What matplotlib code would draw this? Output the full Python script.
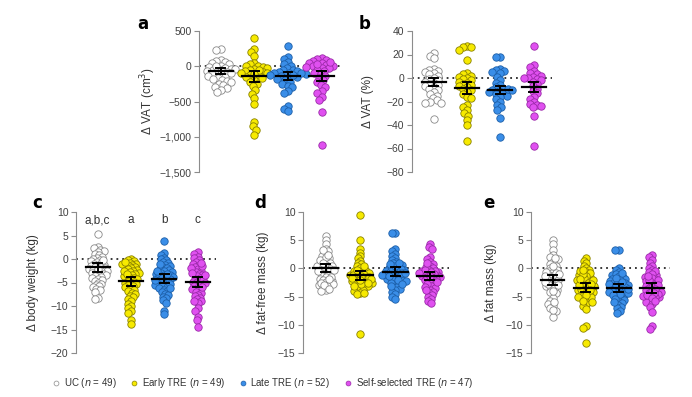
import numpy as np
import matplotlib
matplotlib.use("Agg")
import matplotlib.pyplot as plt
from matplotlib.lines import Line2D
from matplotlib.ticker import FuncFormatter

plt.rcParams["font.family"] = ["Liberation Sans Narrow", "Liberation Sans", "DejaVu Sans"]

GROUPS = ["UC", "Early TRE", "Late TRE", "Self-selected TRE"]
N_LEGEND = [49, 49, 52, 47]
FACE = ["white", "#f7ea00", "#3a8ee8", "#e050f0"]
EDGE = ["#8a8a8a", "#8a8200", "#1d5fa8", "#9a2aa8"]

# ---- panel a: change in VAT (cm3) ------------------------------------------
vat_cm3 = [
    [250, 235, 85, 70, 55, 40, 25, 10, -5, -20, -35, -50, -65, -80, -95, -110,
     -125, -140, -155, -170, -185, -200, -215, -230, -250, -270, -290, -310, -335,
     -360, -60, -40, 0, -100],
    [400, 250, 200, 150, 40, 30, 10, 0, -10, -20, -40, -50, -70, -80, -100, -120,
     -130, -150, -170, -200, -220, -250, -280, -340, -390, -450, -540, -790, -850,
     -900, -980, -60, -90, -110],
    [290, 130, 100, 60, 30, 10, -30, -50, -60, -80, -90, -100, -110, -120, -130,
     -140, -150, -160, -180, -200, -220, -250, -280, -300, -350, -380, -560, -600,
     -630, -70, -95, -125],
    [120, 100, 90, 70, 50, 40, 20, 10, 0, -10, -20, -30, -50, -70, -90, -110, -140,
     -170, -200, -230, -260, -300, -350, -380, -430, -480, -650, -1120, 60, 30],
]
vat_cm3_mean = [-71, -143, -133, -133]
vat_cm3_ci = [40, 77, 57, 72]

# ---- panel b: change in VAT (%) --------------------------------------------
vat_pct = [
    [21, 19, 17, 8, 7, 6, 5, 4, 3, 2, 0, -1, -2, -3, -4, -5, -6, -7, -8, -9, -10,
     -12, -14, -15, -17, -19, -20, -21, -21, -35],
    [27, 26, 26, 24, 15, 4, 3, 2, 1, 0, -1, -2, -3, -4, -5, -6, -7, -8, -9, -10,
     -12, -14, -16, -17, -23, -25, -27, -30, -32, -36, -40, -54],
    [18, 18, 8, 7, 6, 5, 4, 1, -2, -4, -6, -8, -9, -10, -11, -12, -13, -14, -15,
     -16, -18, -20, -23, -25, -27, -34, -50, -9.5, -10.5],
    [27, 11, 9, 6, 4, 3, 2, 1, 0, 0, -1, -2, -3, -5, -7, -9, -11, -13, -16, -18,
     -20, -22, -23, -24, -25, -32, -58],
]
vat_pct_mean = [-3.4, -8.2, -9.9, -7.7]
vat_pct_ci = [3.0, 5.0, 3.3, 4.5]

# ---- panel c: change in body weight (kg) -----------------------------------
weight = [
    [5.4, 2.5, 2.3, 2.0, 1.8, 1.5, 1.0, 0.8, 0.5, 0.2, 0, -0.2, -0.5, -0.7, -0.9,
     -1.0, -1.2, -1.4, -1.5, -1.7, -1.8, -2.0, -2.1, -2.3, -2.5, -2.6, -2.8, -3.0,
     -3.1, -3.3, -3.4, -3.6, -3.8, -4.0, -4.2, -4.5, -4.7, -5.0, -5.3, -5.5, -5.8,
     -6.0, -6.3, -6.6, -7.0, -8.2, -8.6, -2.2, -0.3],
    [-0.1, -0.2, -0.5, -0.8, -1.0, -1.3, -1.5, -1.8, -2.0, -2.2, -2.4, -2.6, -2.8,
     -3.0, -3.2, -3.4, -3.6, -3.8, -4.0, -4.2, -4.4, -4.6, -4.8, -5.0, -5.2, -5.4,
     -5.6, -5.8, -6.0, -6.3, -6.6, -6.9, -7.2, -7.5, -7.8, -8.1, -8.5, -9.0, -9.5,
     -10.0, -10.5, -11.0, -11.5, -13.0, -13.8, -1.1, -2.5, -3.1, -0.6],
    [3.9, 1.2, 0.8, 0.3, 0, -0.3, -0.6, -0.9, -1.2, -1.5, -1.8, -2.0, -2.2, -2.4,
     -2.6, -2.8, -3.0, -3.2, -3.4, -3.6, -3.8, -4.0, -4.2, -4.4, -4.6, -4.8, -5.0,
     -5.2, -5.4, -5.6, -5.8, -6.0, -6.2, -6.5, -6.8, -7.1, -7.4, -7.7, -8.0, -8.4,
     -8.8, -9.3, -11.0, -11.8, -1.0, -2.5, -3.5, -4.1, -4.5, -5.3, -6.1, -3.1],
    [1.4, 1.1, 0.5, 0.2, -0.2, -0.6, -1.0, -1.4, -1.8, -2.2, -2.5, -2.8, -3.1, -3.4,
     -3.7, -4.0, -4.3, -4.6, -4.9, -5.2, -5.5, -5.8, -6.1, -6.4, -6.7, -7.0, -7.3,
     -7.6, -7.9, -8.2, -8.5, -8.9, -9.3, -10.5, -11.0, -12.3, -13.0, -14.5, -2.0,
     -3.0, -4.5, -5.0, -6.0, -3.5, -1.5, -0.8, -9.0],
]
weight_mean = [-1.8, -4.7, -4.2, -4.9]
weight_ci = [0.9, 0.95, 0.95, 1.15]
weight_letters = ["a,b,c", "a", "b", "c"]

# ---- panel d: change in fat-free mass (kg) ---------------------------------
ffm = [
    [5.8, 5.0, 4.3, 3.5, 3.0, 2.6, 2.2, 1.8, 1.5, 1.2, 1.0, 0.8, 0.6, 0.4, 0.2, 0,
     -0.2, -0.4, -0.6, -0.8, -1.0, -1.2, -1.4, -1.6, -1.8, -2.0, -2.2, -2.4, -2.6,
     -2.8, -3.0, -3.2, -3.5, -3.8, -4.0, -2.5, -1.5, -0.5, 0.5, 1.5, 2.0, 3.2, -1.9,
     -2.9, 0.9, -0.1, -3.6, 2.4, -0.3],
    [9.5, 5.0, 3.4, 2.8, 2.2, 1.8, 1.4, 1.0, 0.7, 0.4, 0.1, -0.2, -0.4, -0.6, -0.8,
     -1.0, -1.2, -1.4, -1.6, -1.8, -2.0, -2.2, -2.4, -2.6, -2.8, -3.0, -3.2, -3.4,
     -3.6, -3.8, -4.0, -4.3, -4.6, -11.6, -0.5, -1.1, -1.5, -1.9, -2.3, -2.7, -3.1,
     -0.9, 0.5, -1.3, -2.1, -2.5, -1.7, -0.3, -4.4],
    [6.3, 6.2, 3.4, 3.0, 2.6, 2.2, 1.8, 1.5, 1.2, 0.9, 0.6, 0.3, 0, -0.3, -0.6,
     -0.9, -1.2, -1.5, -1.8, -2.1, -2.4, -2.7, -3.0, -3.3, -3.6, -3.9, -4.2, -4.6,
     -5.0, -5.5, -0.1, -0.4, -0.7, -1.0, -1.3, -1.6, -1.9, -2.2, -2.5, -0.2, -0.5,
     0.1, 0.4, -0.8, -1.1, -1.4, -2.0, 0.7, -2.8, -3.2, 1.0, -0.9],
    [4.4, 3.8, 3.4, 2.0, 1.6, 1.2, 0.8, 0.4, 0.1, -0.2, -0.5, -0.8, -1.1, -1.4,
     -1.7, -2.0, -2.3, -2.6, -2.9, -3.2, -3.5, -3.8, -4.1, -4.4, -4.7, -5.0, -5.4,
     -5.8, -6.2, 0.3, -0.3, -0.6, -0.9, -1.2, -1.5, -1.8, -2.1, -2.4, -0.4, -1.0,
     -1.6, -2.8, -3.3, -3.9, 0.9, -0.7, -1.3],
]
ffm_mean = [0.0, -1.2, -0.6, -1.3]
ffm_ci = [0.7, 0.8, 0.8, 0.75]

# ---- panel e: change in fat mass (kg) --------------------------------------
fm = [
    [5.0, 4.3, 3.2, 2.4, 2.0, 1.6, 1.2, 0.8, 0.4, 0.1, -0.2, -0.5, -0.8, -1.1, -1.4,
     -1.7, -2.0, -2.3, -2.6, -2.9, -3.2, -3.5, -3.8, -4.1, -4.4, -5.3, -5.8, -6.3,
     -6.7, -7.1, -7.6, -8.6, -0.3, -0.9, -1.5, -2.1, -2.7, -3.3, -1.0, -1.9, -2.4,
     0.5, -0.6, -3.0, -1.3, -4.0, -7.3, -6.0, 1.9],
    [1.8, 1.3, 0.9, 0.5, 0.1, -0.3, -0.7, -1.1, -1.5, -1.9, -2.3, -2.7, -3.1, -3.5,
     -3.9, -4.3, -4.7, -5.1, -5.5, -5.9, -6.3, -6.7, -7.2, -10.2, -10.5, -13.2,
     -0.5, -0.9, -1.3, -1.7, -2.1, -2.5, -2.9, -3.3, -3.7, -4.1, -4.5, -1.0, -2.0,
     -3.0, -4.0, -5.0, -0.2, -1.8, -2.8, -3.8, -4.8, -5.8, -6.0],
    [3.3, 3.3, 0.1, -0.3, -0.7, -1.1, -1.5, -1.9, -2.3, -2.6, -2.9, -3.2, -3.5,
     -3.8, -4.1, -4.4, -4.7, -5.0, -5.3, -5.6, -5.9, -6.2, -6.5, -6.8, -7.1, -7.5,
     -7.9, -1.0, -1.4, -1.8, -2.2, -2.5, -2.8, -3.1, -3.4, -3.7, -4.0, -4.3, -4.6,
     -2.0, -2.7, -3.3, -3.9, -0.9, -1.7, -2.4, -3.0, -3.6, -4.2, -4.8, -5.4, -6.0],
    [2.4, 2.0, 1.5, 1.0, 0.5, 0.1, -0.3, -0.7, -1.1, -1.5, -1.9, -2.3, -2.7, -3.1,
     -3.5, -3.9, -4.3, -4.7, -5.1, -5.5, -5.9, -6.3, -6.8, -7.8, -10.2, -10.7, -0.5,
     -1.0, -1.7, -2.1, -2.5, -2.9, -3.3, -3.7, -4.1, -4.5, -4.9, -3.0, -4.0, -5.0,
     -2.0, -3.6, -4.4, -4.8, -5.3, -5.7, -1.3],
]
fm_mean = [-2.0, -3.4, -3.5, -3.5]
fm_ci = [0.9, 0.85, 0.7, 0.85]

PX = 692.0
PY = 397.0
DOT_PX = 7.4       # marker diameter in pixels
MS = DOT_PX * 72 / 100


def swarm(vals, px_per_unit_x, px_per_unit_y, overlap=0.47):
    """Simple beeswarm: put each point as close to the centre as it fits,
    letting neighbours overlap quite a bit."""
    md = DOT_PX * overlap
    ys = np.asarray(vals, float) * px_per_unit_y
    order = np.argsort(-ys)
    placed_x, placed_y = [], []
    xs = np.zeros(len(ys))
    for i in order:
        y = ys[i]
        cands = [0.0]
        blocks = []
        for px_, py_ in zip(placed_x, placed_y):
            dy = abs(py_ - y)
            if dy < md:
                w = np.sqrt(md ** 2 - dy ** 2)
                blocks.append((px_ - w, px_ + w))
                cands += [px_ - w, px_ + w]
        cands.sort(key=abs)
        for c in cands:
            if all(not (lo + 1e-6 < c < hi - 1e-6) for lo, hi in blocks):
                xs[i] = c
                break
        placed_x.append(xs[i])
        placed_y.append(y)
    return xs / px_per_unit_x


def panel(rect, data, means, cis, ylim, ticks, ylabel, letter, letter_xy,
          ylabel_x, fmt=None, overlap=0.47):
    ax = fig.add_axes(rect)
    xlim = (-0.65, 3.55)
    w_px = rect[2] * PX
    h_px = rect[3] * PY
    ppx = w_px / (xlim[1] - xlim[0])
    ppy = h_px / (ylim[1] - ylim[0])
    ax.axhline(0, color="0.15", ls=(0, (1, 2.2)), lw=1.3, zorder=1)
    for g, vals in enumerate(data):
        off = swarm(vals, ppx, ppy, overlap)
        ax.scatter(g + off, vals, s=MS ** 2, facecolor=FACE[g],
                   edgecolor=EDGE[g], lw=0.6, zorder=2, clip_on=False)
        m, c = means[g], cis[g]
        ax.plot([g - 0.36, g + 0.36], [m, m], color="k", lw=1.6, zorder=4)
        ax.plot([g, g], [m - c, m + c], color="k", lw=1.4, zorder=4)
        for e in (m - c, m + c):
            ax.plot([g - 0.13, g + 0.13], [e, e], color="k", lw=1.4, zorder=4)
    ax.set_xlim(*xlim)
    ax.set_ylim(*ylim)
    ax.set_yticks(ticks)
    if fmt is not None:
        ax.yaxis.set_major_formatter(FuncFormatter(fmt))
    ax.set_xticks([])
    for s in ("top", "right", "bottom"):
        ax.spines[s].set_visible(False)
    ax.spines["left"].set_color("0.55")
    ax.spines["left"].set_linewidth(0.8)
    ax.tick_params(axis="y", length=3.5, width=0.8, color="0.55",
                   labelsize=7.5, labelcolor="0.25", pad=2)
    ax.patch.set_alpha(0)
    fig.text(ylabel_x / PX, rect[1] + rect[3] / 2, ylabel, rotation=90,
             ha="center", va="center", fontsize=8.5, color="0.2")
    fig.text(letter_xy[0] / PX, 1 - letter_xy[1] / PY, letter, fontsize=12,
             fontweight="bold", ha="center", va="center",
             family=["DejaVu Sans"])
    return ax


fig = plt.figure(figsize=(6.92, 3.97), dpi=100)


def thousands(v, _):
    return f"{int(v):,}".replace("-", "\u2212") if v != 0 else "0"


panel([199 / PX, 1 - 172 / PY, 141 / PX, 141 / PY], vat_cm3, vat_cm3_mean,
      vat_cm3_ci, (-1500, 500), [500, 0, -500, -1000, -1500],
      "\u0394 VAT (cm$^3$)", "a", (143, 24), 148, fmt=thousands, overlap=0.62)
panel([412 / PX, 1 - 172 / PY, 140 / PX, 141 / PY], vat_pct, vat_pct_mean,
      vat_pct_ci, (-80, 40), [40, 20, 0, -20, -40, -60, -80],
      "\u0394 VAT (%)", "b", (365, 24), 368, overlap=0.62)
axc = panel([76 / PX, 1 - 353 / PY, 140 / PX, 141 / PY], weight, weight_mean,
            weight_ci, (-20, 10), [10, 5, 0, -5, -10, -15, -20],
            "\u0394 body weight (kg)", "c", (37, 203), 33)
for g, t in enumerate(weight_letters):
    axc.text(g, 8.2, t, ha="center", va="center", fontsize=8.5, color="0.2")
panel([303 / PX, 1 - 353 / PY, 146 / PX, 141 / PY], ffm, ffm_mean, ffm_ci,
      (-15, 10), [10, 5, 0, -5, -10, -15],
      "\u0394 fat-free mass (kg)", "d", (260, 203), 263)
panel([531 / PX, 1 - 353 / PY, 139 / PX, 141 / PY], fm, fm_mean, fm_ci,
      (-15, 10), [10, 5, 0, -5, -10, -15],
      "\u0394 fat mass (kg)", "e", (489, 203), 491)

handles = [Line2D([], [], ls="", marker="o", ms=3.5, mfc=FACE[i], mec=EDGE[i],
                  mew=0.5) for i in range(4)]
labels = [f"{g} ($n$ = {n})" for g, n in zip(GROUPS, N_LEGEND)]
fig.legend(handles, labels, loc="center", bbox_to_anchor=(262 / PX, 1 - 383 / PY),
           ncol=4, frameon=False, fontsize=7, handletextpad=0.3,
           columnspacing=1.3, handlelength=1.0, labelcolor="0.2")

fig.savefig("out.png", dpi=100)
